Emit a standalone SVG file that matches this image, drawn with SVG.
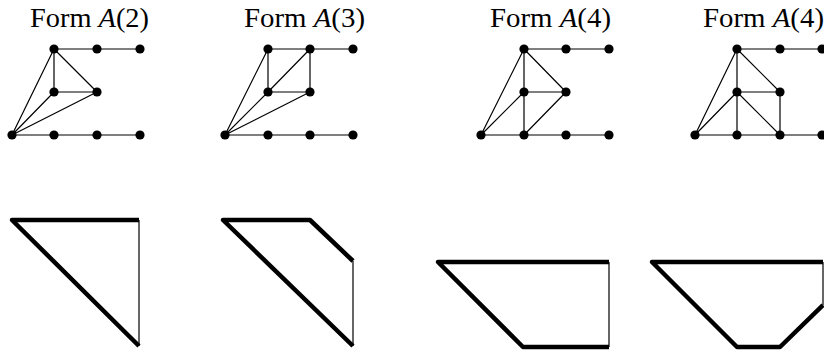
<svg xmlns="http://www.w3.org/2000/svg" width="824" height="354" viewBox="0 0 824 354">
<style>
.lbl{font-family:"Liberation Serif","DejaVu Serif",serif;font-size:27px;fill:#000}
.e{stroke:#000;stroke-width:1.2;fill:none}
.n{fill:#000}
.thick{stroke:#000;stroke-width:4.5;fill:none;stroke-linejoin:round;stroke-linecap:butt}
.thin{stroke:#000;stroke-width:1.2;fill:none}
</style>
<defs>
<circle id="dot" r="4.6" class="n"/>
</defs>
<g id="labels">
<text class="lbl" x="30" y="27" textLength="119" lengthAdjust="spacingAndGlyphs">Form <tspan font-style="italic">A</tspan>(2)</text>
<text class="lbl" x="244" y="27" textLength="121" lengthAdjust="spacingAndGlyphs">Form <tspan font-style="italic">A</tspan>(3)</text>
<text class="lbl" x="490" y="27" textLength="121" lengthAdjust="spacingAndGlyphs">Form <tspan font-style="italic">A</tspan>(4)</text>
<text class="lbl" x="703" y="27" textLength="121" lengthAdjust="spacingAndGlyphs">Form <tspan font-style="italic">A</tspan>(4)</text>
</g>
<g id="connectors">
<path class="e" d="M54 49H140 M12 135H140 M54 49L12 135 M54 49V92 M54 49L97 92 M54 92H97 M12 135L54 92 M12 135L97 92"/>
<path class="e" d="M268 49H353 M225 135H353 M268 49L225 135 M268 49V92 M268 92H310 M310 49V92 M310 49L268 92 M225 135L268 92 M225 135L310 92"/>
<path class="e" d="M524 49H609 M481 135H609 M524 49L481 135 M524 49V135 M524 49L566 92 M524 92H566 M481 135L524 92 M524 135L566 92"/>
<path class="e" d="M737 49H824 M695 135H824 M737 49L695 135 M737 49V135 M737 49L780 92 M737 92H780 M780 92V135 M695 135L737 92 M737 92L780 135"/>
</g>
<g id="graph1">
<use href="#dot" x="54" y="49"/><use href="#dot" x="97" y="49"/><use href="#dot" x="140" y="49"/>
<use href="#dot" x="54" y="92"/><use href="#dot" x="97" y="92"/>
<use href="#dot" x="12" y="135"/><use href="#dot" x="54" y="135"/><use href="#dot" x="97" y="135"/><use href="#dot" x="140" y="135"/>
</g>
<g id="graph2">
<use href="#dot" x="268" y="49"/><use href="#dot" x="310" y="49"/><use href="#dot" x="353" y="49"/>
<use href="#dot" x="268" y="92"/><use href="#dot" x="310" y="92"/>
<use href="#dot" x="225" y="135"/><use href="#dot" x="268" y="135"/><use href="#dot" x="310" y="135"/><use href="#dot" x="353" y="135"/>
</g>
<g id="graph3">
<use href="#dot" x="524" y="49"/><use href="#dot" x="566" y="49"/><use href="#dot" x="609" y="49"/>
<use href="#dot" x="524" y="92"/><use href="#dot" x="566" y="92"/>
<use href="#dot" x="481" y="135"/><use href="#dot" x="524" y="135"/><use href="#dot" x="566" y="135"/><use href="#dot" x="609" y="135"/>
</g>
<g id="graph4">
<use href="#dot" x="737" y="49"/><use href="#dot" x="780" y="49"/><use href="#dot" x="822" y="49"/>
<use href="#dot" x="737" y="92"/><use href="#dot" x="780" y="92"/>
<use href="#dot" x="695" y="135"/><use href="#dot" x="737" y="135"/><use href="#dot" x="780" y="135"/><use href="#dot" x="822" y="135"/>
</g>
<g id="shape1">
<polyline class="thick" points="139,220 12,220 139,346"/>
<line class="thin" x1="139" y1="220" x2="139" y2="346"/>
</g>
<g id="shape2">
<polyline class="thick" points="353,261 310,220 223,220 353,346"/>
<line class="thin" x1="353" y1="261" x2="353" y2="346"/>
</g>
<g id="shape3">
<polyline class="thick" points="609,262 438,262 523,347 609,347"/>
<line class="thin" x1="609" y1="262" x2="609" y2="347"/>
</g>
<g id="shape4">
<polyline class="thick" points="823,262 652,262 737,347 780,347 823,305"/>
<line class="thin" x1="823" y1="262" x2="823" y2="305"/>
</g>
</svg>
